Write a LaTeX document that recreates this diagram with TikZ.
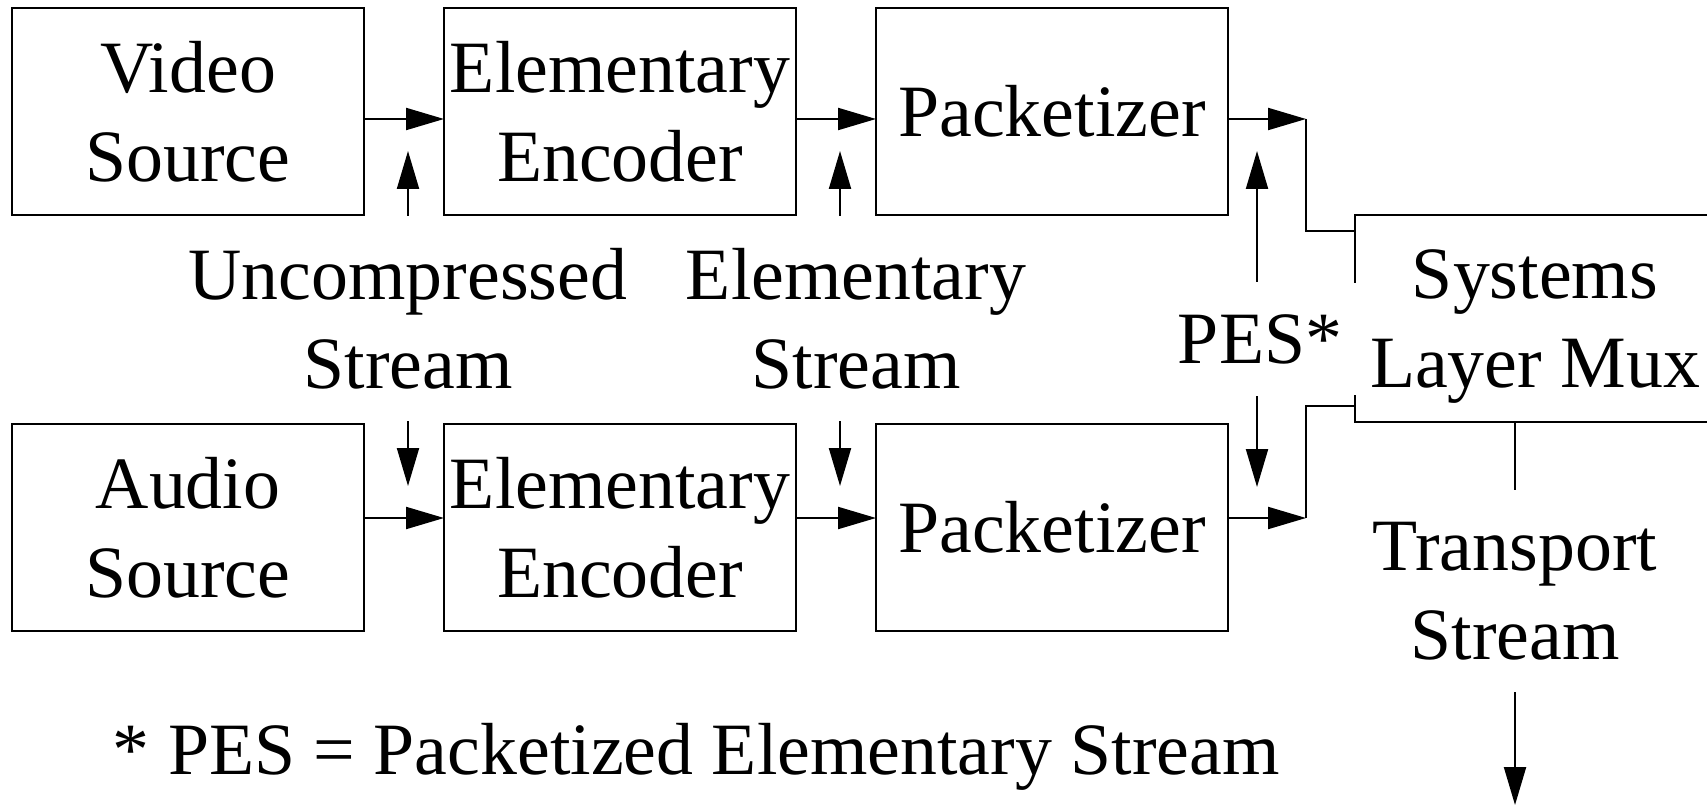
\documentclass[tikz,border=0pt]{standalone}
\usepackage{fontspec}
\setmainfont{Liberation Serif}
\usetikzlibrary{arrows.meta, positioning}
\tikzset{
    block/.style={rectangle, draw, line width=0.6pt, minimum width=3.52cm, minimum height=2.07cm, inner sep=1pt, align=center, outer sep=0pt},
    label_txt/.style={fill=white, align=center, inner sep=9pt},
    arrow/.style={-{Triangle[length=3.8mm, width=2.2mm]}, line width=0.6pt},
    wire/.style={line width=0.6pt}
}

\begin{document}
\begin{tikzpicture}[node distance=2.09cm and 0.8cm, font=\fontsize{21}{25.3}\selectfont]
    \useasboundingbox (0,0) rectangle (17.07,-8.06);
    \node (vs) [block] at (1.88,-1.115) {Video\\Source};
    \node (enc1) [block, right=of vs] {Elementary\\Encoder};
    \node (pk1) [block, right=of enc1] {Packetizer};
    \node (as) [block, below=of vs] {Audio\\Source};
    \node (enc2) [block, right=of as] {Elementary\\Encoder};
    \node (pk2) [block, right=of enc2] {Packetizer};
    \node (mux) [block, minimum width=3.6cm, text depth=0pt, anchor=north west] at ([xshift=1.27cm]pk1.south east) {Systems\\Layer Mux};

    \node (ucs) [label_txt] at (4.08,-3.185) {Uncompressed\\Stream};
    \node (els) [label_txt] at (8.56,-3.185) {Elementary\\Stream};
    \node (pes) [label_txt, inner xsep=5pt] at (12.60,-3.39) {PES*};
    \node (ts) [label_txt] at (15.15,-5.91) {Transport\\Stream};
    \node (note) [anchor=base west, inner sep=0pt] at (1.12,-7.74) {* PES = Packetized Elementary Stream};

    \coordinate (ucup) at (4.08,-1.51);
    \coordinate (ucdn) at (4.08,-4.86);
    \coordinate (esup) at (8.40,-1.51);
    \coordinate (esdn) at (8.40,-4.86);
    \coordinate (pesup) at (12.57,-1.51);
    \coordinate (pesdn) at (12.57,-4.87);
    \coordinate (jt) at (13.06,-1.19);
    \coordinate (jb) at (13.06,-5.18);
    \coordinate (tsout) at (15.15,-8.05);

    \draw [arrow] ([yshift=-0.75mm]vs.east) -- ([yshift=-0.75mm]enc1.west);
    \draw [arrow] ([yshift=-0.75mm]enc1.east) -- ([yshift=-0.75mm]pk1.west);
    \draw [arrow] ([yshift=0.95mm]as.east) -- ([yshift=0.95mm]enc2.west);
    \draw [arrow] ([yshift=0.95mm]enc2.east) -- ([yshift=0.95mm]pk2.west);

    \draw [arrow] (pk1.east |- jt) -- (jt);
    \draw [wire] (jt) |- ([yshift=-1.6mm]mux.north west);
    \draw [arrow] (pk2.east |- jb) -- (jb);
    \draw [wire] (jb) |- ([yshift=1.6mm]mux.south west);

    \draw [arrow] (ucs.north -| ucup) -- (ucup);
    \draw [arrow] (ucs.south -| ucdn) -- (ucdn);
    \draw [arrow] (els.north -| esup) -- (esup);
    \draw [arrow] (els.south -| esdn) -- (esdn);
    \draw [arrow] (pes.north -| pesup) -- (pesup);
    \draw [arrow] (pes.south -| pesdn) -- (pesdn);

    \draw [wire] (ts.north) -- (ts.north |- mux.south);
    \draw [arrow] (ts.south) -- (tsout);
\end{tikzpicture}
\end{document}
